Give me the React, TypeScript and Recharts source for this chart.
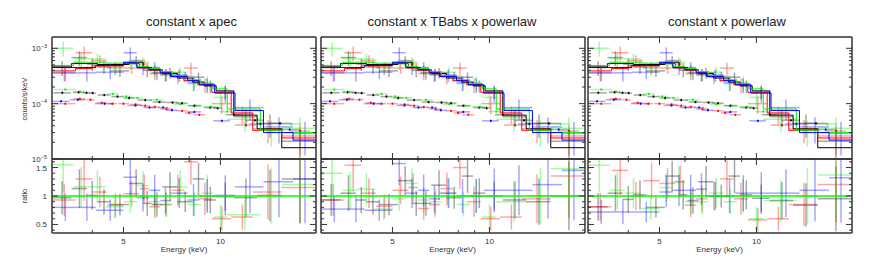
import React from 'react';
import { ComposedChart, Line, Scatter, XAxis, YAxis, ErrorBar, ReferenceLine } from 'recharts';

const black = '#000000';
const red = '#ff0000';
const green = '#00f000';
const blue = '#0000ff';

// axes (keV, counts/s/keV, ratio)
const energyRange = [3, 19.8];
const countsRange = [1e-5, 1.6e-3];
const ratioRange = [0.35, 1.65];
const energyTicks = [4, 5, 6, 7, 8, 9, 10];
const energyLabels = [5, 10];
const countTicks = [
  1e-5, 2e-5, 3e-5, 4e-5, 5e-5, 6e-5, 7e-5, 8e-5, 9e-5,
  1e-4, 2e-4, 3e-4, 4e-4, 5e-4, 6e-4, 7e-4, 8e-4, 9e-4, 1e-3,
];
const countLabels = [1e-5, 1e-4, 1e-3];
const ratioTicks = [0.4, 0.5, 0.6, 0.7, 0.8, 0.9, 1, 1.1, 1.2, 1.3, 1.4, 1.5, 1.6];
const ratioLabels = [0.5, 1, 1.5];
const unityRatio = 1;

const panelTitles = ['constant x apec', 'constant x TBabs x powerlaw', 'constant x powerlaw'];

// source spectra: bin edges, model, data, relative error, ratio per panel
const blackEdges = [3.0, 3.45, 3.85, 4.15, 4.55, 5.2, 5.75, 6.1, 6.6, 7.35, 8.2, 8.9, 9.7, 11.0, 13.0, 15.5, 19.8];
const blackModel = [4.6e-4, 5.3e-4, 5.3e-4, 5.1e-4, 5.1e-4, 5.6e-4, 4.5e-4, 4.1e-4, 3.5e-4, 2.9e-4, 2.45e-4, 2.1e-4, 1.7e-4, 6.2e-5, 3.5e-5, 1.6e-5];
const blackCounts = [4.5e-4, 6.8e-4, 5.2e-4, 4.6e-4, 3.9e-4, 6.0e-4, 4.0e-4, 3.6e-4, 3.6e-4, 3.1e-4, 3.0e-4, 2.1e-4, 1.6e-4, 5.8e-5, 4.4e-5, 2.1e-5];
const blackErr = [0.3, 0.3, 0.25, 0.25, 0.22, 0.2, 0.25, 0.25, 0.22, 0.2, 0.22, 0.25, 0.25, 0.35, 0.45, 0.6];
const blackRatio1 = [0.97, 1.13, 1.01, 0.9, 0.85, 1.22, 0.87, 0.85, 1.16, 0.9, 1.3, 0.93, 0.99, 0.97, 1.01, 1.3];
const blackRatio2 = [0.93, 1.05, 0.93, 0.9, 0.85, 1.27, 0.87, 0.87, 1.19, 0.97, 1.35, 1.05, 1.0, 0.93, 0.9, 1.0];
const blackRatio3 = [0.81, 1.05, 0.94, 1.02, 0.8, 1.35, 1.02, 0.92, 1.25, 1.0, 1.35, 1.02, 0.96, 0.92, 0.84, 0.95];

const redEdges = [3.0, 3.55, 4.0, 4.45, 5.0, 5.6, 6.0, 6.5, 7.05, 7.7, 8.5, 9.4, 10.8, 12.6, 15.5, 19.8];
const redModel = [3.9e-4, 4.3e-4, 4.8e-4, 4.8e-4, 5.3e-4, 4.4e-4, 4.0e-4, 3.6e-4, 3.1e-4, 2.6e-4, 2.2e-4, 1.6e-4, 6.8e-5, 3.3e-5, 2.4e-5];
const redCounts = [3.6e-4, 8.3e-4, 6.0e-4, 4.5e-4, 4.4e-4, 5.2e-4, 3.5e-4, 3.4e-4, 3.0e-4, 4.4e-4, 2.2e-4, 1.0e-4, 6.5e-5, 3.5e-5, 2.6e-5];
const redErr = [0.3, 0.3, 0.25, 0.25, 0.22, 0.22, 0.25, 0.25, 0.25, 0.25, 0.3, 0.35, 0.35, 0.45, 0.55];
const redRatio1 = [0.93, 1.3, 1.07, 0.84, 1.04, 1.13, 0.81, 0.85, 1.1, 1.6, 0.95, 0.6, 0.63, 1.07, 1.15];
const redRatio2 = [0.93, 1.54, 1.05, 0.82, 1.1, 1.15, 0.78, 0.85, 1.13, 1.5, 0.9, 0.6, 0.63, 0.95, 1.35];
const redRatio3 = [0.81, 1.45, 1.0, 1.27, 1.22, 1.25, 0.84, 0.95, 1.0, 1.3, 0.95, 0.58, 0.6, 0.85, 1.2];

const greenEdges = [3.0, 3.5, 3.9, 4.4, 5.0, 5.5, 6.0, 6.5, 7.1, 7.9, 8.7, 9.5, 10.5, 13.3, 15.5, 19.8];
const greenModel = [4.9e-4, 5.6e-4, 5.6e-4, 5.4e-4, 5.7e-4, 4.7e-4, 4.3e-4, 3.8e-4, 3.2e-4, 2.7e-4, 2.3e-4, 1.85e-4, 8.0e-5, 3.3e-5, 3.0e-5];
const greenCounts = [1.0e-3, 6.5e-4, 6.4e-4, 4.4e-4, 5.2e-4, 5.6e-4, 4.0e-4, 3.4e-4, 3.7e-4, 2.3e-4, 2.4e-4, 1.3e-4, 5.2e-5, 3.3e-5, 3.6e-5];
const greenErr = [0.3, 0.3, 0.25, 0.25, 0.22, 0.22, 0.25, 0.25, 0.25, 0.25, 0.3, 0.35, 0.4, 0.5, 0.55];
const greenRatio1 = [1.55, 1.16, 1.16, 0.81, 0.9, 1.18, 0.9, 0.85, 1.16, 0.85, 1.05, 0.63, 0.67, 1.0, 1.2];
const greenRatio2 = [1.4, 1.1, 1.12, 0.77, 0.95, 1.22, 0.93, 0.9, 1.05, 0.85, 1.0, 0.63, 0.9, 1.0, 1.48];
const greenRatio3 = [1.54, 1.1, 1.05, 0.78, 1.15, 1.25, 0.9, 0.9, 1.05, 0.9, 1.0, 0.6, 0.92, 1.0, 1.37];

const blueEdges = [3.0, 3.6, 4.1, 5.0, 5.5, 6.0, 6.5, 7.0, 7.9, 8.6, 9.6, 11.1, 13.6, 16.8, 19.8];
const blueModel = [4.5e-4, 4.5e-4, 4.9e-4, 5.5e-4, 4.5e-4, 4.1e-4, 3.6e-4, 3.1e-4, 2.6e-4, 2.2e-4, 1.55e-4, 7.5e-5, 3.0e-5, 2.2e-5];
const blueCounts = [3.6e-4, 3.6e-4, 3.7e-4, 8.3e-4, 4.4e-4, 4.5e-4, 3.3e-4, 3.3e-4, 2.4e-4, 2.2e-4, 1.6e-4, 8.5e-5, 3.8e-5, 2.9e-5];
const blueErr = [0.3, 0.3, 0.25, 0.25, 0.25, 0.25, 0.25, 0.25, 0.3, 0.3, 0.35, 0.4, 0.5, 0.6];
const blueRatio1 = [0.8, 0.8, 0.75, 1.33, 0.97, 1.1, 0.92, 1.05, 0.93, 1.0, 1.01, 1.16, 1.25, 1.3];
const blueRatio2 = [0.77, 0.77, 0.75, 1.57, 1.05, 1.1, 0.95, 1.05, 1.0, 1.0, 1.1, 1.1, 1.2, 1.45];
const blueRatio3 = [0.72, 0.72, 0.72, 1.07, 1.1, 1.1, 1.12, 1.0, 1.0, 1.05, 1.05, 1.05, 1.1, 1.32];

// lower group of points (background), energy / counts / half bin width
const bgBlackEnergy = [3.23, 3.63, 3.84, 4.01, 4.36, 4.79, 5.21, 5.84, 6.47, 7.1, 7.6, 8.3, 9.3, 9.8, 11.0, 12.8, 15.3];
const bgBlackCounts = [1.57e-4, 1.6e-4, 1.57e-4, 1.55e-4, 1.43e-4, 1.34e-4, 1.27e-4, 1.16e-4, 1.07e-4, 1.05e-4, 1.02e-4, 9.2e-5, 8.5e-5, 8.3e-5, 6.3e-5, 5.0e-5, 4.4e-5];
const bgBlackWidth = [0.2, 0.15, 0.1, 0.1, 0.2, 0.2, 0.2, 0.3, 0.3, 0.3, 0.3, 0.4, 0.4, 0.3, 0.6, 0.8, 1.2];

const bgRedEnergy = [3.3, 3.66, 3.95, 4.28, 4.62, 5.0, 5.45, 5.84, 6.26, 6.8, 7.6, 8.0, 8.6, 12.0, 14.7, 17.7];
const bgRedCounts = [1.0e-4, 1.22e-4, 1.18e-4, 1.04e-4, 1.0e-4, 1.0e-4, 9.7e-5, 9.2e-5, 8.7e-5, 8.0e-5, 7.4e-5, 6.8e-5, 6.3e-5, 4.1e-5, 3.5e-5, 3.2e-5];
const bgRedWidth = [0.25, 0.15, 0.12, 0.15, 0.15, 0.2, 0.2, 0.2, 0.2, 0.3, 0.3, 0.25, 0.35, 0.9, 1.0, 1.3];

const bgGreenEnergy = [3.3, 3.66, 4.63, 5.1, 5.52, 6.35, 7.5, 8.4, 9.34, 10.5, 16.6];
const bgGreenCounts = [1.8e-4, 1.65e-4, 1.5e-4, 1.35e-4, 1.27e-4, 1.17e-4, 9.8e-5, 9.2e-5, 8.8e-5, 7.2e-5, 4.3e-5];
const bgGreenWidth = [0.25, 0.15, 0.2, 0.2, 0.25, 0.3, 0.35, 0.4, 0.5, 0.6, 1.2];

const bgBlueEnergy = [3.2, 3.61, 4.37, 5.45, 6.02, 6.64, 7.07, 8.3, 10.1, 13.3, 16.4];
const bgBlueCounts = [1.1e-4, 1.18e-4, 1.0e-4, 9.3e-5, 8.5e-5, 8.5e-5, 7.6e-5, 7.1e-5, 4.9e-5, 4.3e-5, 3.4e-5];
const bgBlueWidth = [0.2, 0.2, 0.3, 0.3, 0.25, 0.25, 0.3, 0.4, 0.6, 1.0, 1.3];
const bgRelErr = 0.06;

const spectra = [
  { color: black, edges: blackEdges, model: blackModel, counts: blackCounts, err: blackErr, ratios: [blackRatio1, blackRatio2, blackRatio3] },
  { color: red, edges: redEdges, model: redModel, counts: redCounts, err: redErr, ratios: [redRatio1, redRatio2, redRatio3] },
  { color: green, edges: greenEdges, model: greenModel, counts: greenCounts, err: greenErr, ratios: [greenRatio1, greenRatio2, greenRatio3] },
  { color: blue, edges: blueEdges, model: blueModel, counts: blueCounts, err: blueErr, ratios: [blueRatio1, blueRatio2, blueRatio3] },
];

const backgrounds = [
  { color: black, energy: bgBlackEnergy, counts: bgBlackCounts, width: bgBlackWidth },
  { color: red, energy: bgRedEnergy, counts: bgRedCounts, width: bgRedWidth },
  { color: green, energy: bgGreenEnergy, counts: bgGreenCounts, width: bgGreenWidth },
  { color: blue, energy: bgBlueEnergy, counts: bgBlueCounts, width: bgBlueWidth },
];

// layout
const plotLefts = [52, 320.5, 587.5];
const plotWidth = 264;
const titleCenters = [191.5, 452, 727];
const font = '"Liberation Sans", Arial, Helvetica, sans-serif';
const ink = '#333';
const frame = { stroke: ink, strokeWidth: 1.5 };

// error bars are cut at the frame, like a clipped plot
const binPoints = (edges: number[], values: number[], rel: number[], range: number[]) =>
  values.map((v, i) => {
    const lo = edges[i];
    const hi = edges[i + 1];
    const c = (lo + hi) / 2;
    const e = v * rel[i];
    return { x: c, y: v, ex: [c - lo, hi - c], ey: [Math.min(e, v - range[0]), Math.min(e, range[1] - v)] };
  });

const stepPoints = (edges: number[], values: number[]) =>
  edges.map((e, i) => ({ x: e, y: values[Math.min(i, values.length - 1)] }));

type Side = 'bottom' | 'top' | 'left' | 'right';

function makeTick(side: Side, majors: number[], label?: (v: number) => React.ReactNode) {
  return (p: any) => {
    const x = Number(p.x);
    const y = Number(p.y);
    const v = p.payload.value as number;
    const major = majors.some((m) => Math.abs(m - v) <= Math.abs(m) * 1e-6);
    const len = major ? 6 : 3;
    const x2 = side === 'left' ? x + len : side === 'right' ? x - len : x;
    const y2 = side === 'bottom' ? y - len : side === 'top' ? y + len : y;
    return (
      <g>
        <line x1={x} y1={y} x2={x2} y2={y2} stroke={ink} strokeWidth={1} />
        {major && label && side === 'bottom' && (
          <text x={x} y={y + 11} textAnchor="middle" fontSize={8} fill={ink} fontFamily={font}>
            {label(v)}
          </text>
        )}
        {major && label && side === 'left' && (
          <text x={x - 5} y={y + 3} textAnchor="end" fontSize={8} fill={ink} fontFamily={font}>
            {label(v)}
          </text>
        )}
      </g>
    );
  };
}

const powerLabel = (v: number) => (
  <>
    10
    <tspan dy={-3.5} fontSize={5.5}>
      {'\u2212' + Math.abs(Math.round(Math.log10(v)))}
    </tspan>
  </>
);

const axisCommon = { tickSize: 0, tickMargin: 0, tickLine: false, interval: 0 as const, axisLine: frame, allowDataOverflow: true };

function SpectrumChart({ panel }: { panel: number }) {
  return (
    <div style={{ position: 'absolute', left: plotLefts[panel] - 50, top: 0 }}>
      <ComposedChart width={plotWidth + 60} height={165} margin={{ top: 36, right: 9, bottom: 5, left: 49 }}>
        <XAxis xAxisId="b" dataKey="x" type="number" scale="log" domain={energyRange} ticks={energyTicks} height={1}
          tick={makeTick('bottom', energyLabels)} {...axisCommon} />
        <XAxis xAxisId="t" orientation="top" dataKey="x" type="number" scale="log" domain={energyRange} ticks={energyTicks} height={1}
          tick={makeTick('top', energyLabels)} {...axisCommon} />
        <YAxis yAxisId="l" type="number" scale="log" domain={countsRange} ticks={countTicks} width={1}
          tick={makeTick('left', countLabels, panel === 0 ? powerLabel : undefined)} {...axisCommon} />
        <YAxis yAxisId="r" orientation="right" type="number" scale="log" domain={countsRange} ticks={countTicks} width={1}
          tick={makeTick('right', countLabels)} {...axisCommon} />
        {backgrounds.map((b, k) => (
          <Scatter key={'bg' + k} xAxisId="b" yAxisId="l" dataKey="y" isAnimationActive={false}
            data={b.energy.map((e, i) => ({ x: e, y: b.counts[i], ex: b.width[i], ey: b.counts[i] * bgRelErr }))}
            shape={(s: any) => <circle cx={s.cx} cy={s.cy} r={1} fill={b.color} />}>
            <ErrorBar dataKey="ex" direction="x" width={0} stroke={b.color} strokeOpacity={0.35} isAnimationActive={false} />
            <ErrorBar dataKey="ey" direction="y" width={0} stroke={b.color} strokeOpacity={0.35} isAnimationActive={false} />
          </Scatter>
        ))}
        {spectra.map((s, k) => (
          <Scatter key={'d' + k} xAxisId="b" yAxisId="l" dataKey="y" isAnimationActive={false}
            data={binPoints(s.edges, s.counts, s.err, countsRange)} shape={() => <g />}>
            <ErrorBar dataKey="ex" direction="x" width={0} stroke={s.color} strokeOpacity={0.35} isAnimationActive={false} />
            <ErrorBar dataKey="ey" direction="y" width={0} stroke={s.color} strokeOpacity={0.35} isAnimationActive={false} />
          </Scatter>
        ))}
        {spectra.map((s, k) => (
          <Line key={'m' + k} xAxisId="b" yAxisId="l" data={stepPoints(s.edges, s.model)} dataKey="y" type="stepAfter"
            stroke={s.color} strokeWidth={1} dot={false} isAnimationActive={false} />
        ))}
      </ComposedChart>
    </div>
  );
}

function RatioChart({ panel }: { panel: number }) {
  return (
    <div style={{ position: 'absolute', left: plotLefts[panel] - 50, top: 150 }}>
      <ComposedChart width={plotWidth + 60} height={113} margin={{ top: 8, right: 9, bottom: 29, left: 49 }}>
        <XAxis xAxisId="b" dataKey="x" type="number" scale="log" domain={energyRange} ticks={energyTicks} height={1}
          tick={makeTick('bottom', energyLabels, (v) => String(v))} {...axisCommon} />
        <XAxis xAxisId="t" orientation="top" dataKey="x" type="number" scale="log" domain={energyRange} ticks={energyTicks} height={1}
          tick={makeTick('top', energyLabels)} {...axisCommon} />
        <YAxis yAxisId="l" type="number" domain={ratioRange} ticks={ratioTicks} width={1}
          tick={makeTick('left', ratioLabels, panel === 0 ? (v) => String(v) : undefined)} {...axisCommon} />
        <YAxis yAxisId="r" orientation="right" type="number" domain={ratioRange} ticks={ratioTicks} width={1}
          tick={makeTick('right', ratioLabels)} {...axisCommon} />
        {spectra.map((s, k) => (
          <Scatter key={'r' + k} xAxisId="b" yAxisId="l" dataKey="y" isAnimationActive={false}
            data={binPoints(s.edges, s.ratios[panel], s.err, ratioRange)} shape={() => <g />}>
            <ErrorBar dataKey="ex" direction="x" width={0} stroke={s.color} strokeOpacity={0.35} isAnimationActive={false} />
            <ErrorBar dataKey="ey" direction="y" width={0} stroke={s.color} strokeOpacity={0.35} isAnimationActive={false} />
          </Scatter>
        ))}
        <ReferenceLine xAxisId="b" yAxisId="l" y={unityRatio} stroke="#00ff00" strokeWidth={1.6} />
      </ComposedChart>
    </div>
  );
}

export default function App() {
  return (
    <div style={{ position: 'absolute', left: 0, top: 0, width: 883, height: 263, background: '#fff', fontFamily: font }}>
      {[0, 1, 2].map((p) => (
        <React.Fragment key={p}>
          <SpectrumChart panel={p} />
          <RatioChart panel={p} />
        </React.Fragment>
      ))}
      <svg width={883} height={263} style={{ position: 'absolute', left: 0, top: 0, pointerEvents: 'none' }}>
        {panelTitles.map((t, i) => (
          <text key={t} x={titleCenters[i]} y={26} textAnchor="middle" fontSize={13} fill="#222" fontFamily={font}>
            {t}
          </text>
        ))}
        {plotLefts.map((l) => (
          <text key={l} x={l + plotWidth / 2} y={252} textAnchor="middle" fontSize={8} fill={ink} fontFamily={font}>
            Energy (keV)
          </text>
        ))}
        <text transform="translate(27,99) rotate(-90)" textAnchor="middle" fontSize={7.5} fill={ink} fontFamily={font}>
          counts/s/keV
        </text>
        <text transform="translate(27,196) rotate(-90)" textAnchor="middle" fontSize={7.5} fill={ink} fontFamily={font}>
          ratio
        </text>
      </svg>
    </div>
  );
}
